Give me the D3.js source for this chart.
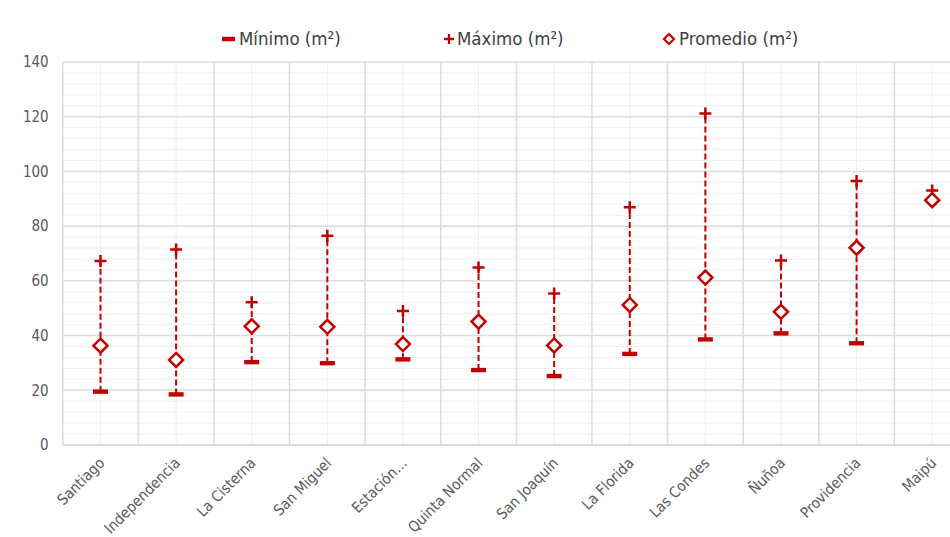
<!DOCTYPE html>
<html>
<head>
<meta charset="utf-8">
<script src="https://cdn.jsdelivr.net/npm/d3@7"></script>
<style>
  html, body { margin: 0; padding: 0; background: #fff; }
  svg { display: block; }
</style>
</head>
<body>
<svg id="chart" width="950" height="537"></svg>
<script>
// Superficie de departamentos por comuna (m²)
const comunas = ["Santiago", "Independencia", "La Cisterna", "San Miguel", "Estación…",
  "Quinta Normal", "San Joaquín", "La Florida", "Las Condes", "Ñuñoa", "Providencia", "Maipú"];
const minimo   = [19.5, 18.5, 30.3, 29.9, 31.3, 27.4, 25.2, 33.3, 38.6, 40.8, 37.2, null];
const maximo   = [67.3, 71.5, 52.2, 76.5, 49.0, 64.9, 55.4, 86.9, 121.2, 67.4, 96.5, 93.0];
const promedio = [36.3, 31.1, 43.4, 43.2, 36.9, 45.1, 36.4, 51.2, 61.2, 48.7, 72.1, 89.5];
const yTicks   = [0, 20, 40, 60, 80, 100, 120, 140];
const seriesNames = ["Mínimo (m²)", "Máximo (m²)", "Promedio (m²)"];

const RED = "#C00000";
const FONT = "'Liberation Sans Narrow', 'DejaVu Sans Condensed', Roboto, sans-serif";

const svg = d3.select("#chart");
const plot = { left: 62.7, right: 970, top: 62, bottom: 445 };

const x = d3.scaleBand().domain(comunas).range([plot.left, plot.right]).padding(0);
const y = d3.scaleLinear().domain([0, 140]).range([plot.bottom, plot.top]);

const data = comunas.map((c, i) => ({ c, min: minimo[i], max: maximo[i], avg: promedio[i] }));

// Gridlines: minor first, then major
const grid = svg.append("g");
d3.range(0, 141, 4).filter(v => v % 20 !== 0).forEach(v => {
  grid.append("line").attr("x1", plot.left).attr("x2", plot.right)
    .attr("y1", y(v)).attr("y2", y(v)).attr("stroke", "#EFEFEF").attr("stroke-width", 1);
});
comunas.forEach(c => {
  const cx = x(c) + x.bandwidth() / 2;
  grid.append("line").attr("x1", cx).attr("x2", cx).attr("y1", plot.top).attr("y2", plot.bottom)
    .attr("stroke", "#EFEFEF").attr("stroke-width", 1);
});
comunas.forEach(c => {
  grid.append("line").attr("x1", x(c)).attr("x2", x(c)).attr("y1", plot.top).attr("y2", plot.bottom)
    .attr("stroke", "#DCDCDC").attr("stroke-width", 1.5);
});
yTicks.forEach(v => {
  grid.append("line").attr("x1", plot.left).attr("x2", plot.right)
    .attr("y1", y(v)).attr("y2", y(v)).attr("stroke", v === 0 ? "#CFCFCF" : "#DCDCDC").attr("stroke-width", 1.5);
});

// Y axis labels
const yAxis = d3.axisLeft(y).tickValues(yTicks).tickSize(0).tickPadding(14);
const gy = svg.append("g").attr("transform", `translate(${plot.left},0)`).call(yAxis);
gy.select(".domain").remove();
gy.selectAll("text").attr("font-family", FONT).attr("font-size", 15).attr("fill", "#595959");

// X axis labels (rotated)
const xAxis = d3.axisBottom(x).tickSize(0).tickPadding(0);
const gx = svg.append("g").attr("transform", `translate(0,${plot.bottom})`).call(xAxis);
gx.select(".domain").remove();
gx.selectAll("text")
  .attr("font-family", FONT).attr("font-size", 15).attr("fill", "#595959")
  .attr("text-anchor", "end").attr("dy", null).attr("y", 0)
  .attr("transform", "translate(5,19) rotate(-45)");

// Range lines (dashed) from minimum to maximum
const marks = svg.append("g");
marks.selectAll("line.range").data(data.filter(d => d.min != null)).join("line")
  .attr("class", "range")
  .attr("x1", d => x(d.c) + x.bandwidth() / 2).attr("x2", d => x(d.c) + x.bandwidth() / 2)
  .attr("y1", d => y(d.min)).attr("y2", d => y(d.max))
  .attr("stroke", RED).attr("stroke-width", 2).attr("stroke-dasharray", "6,3");

// Minimum markers
marks.selectAll("rect.min").data(data.filter(d => d.min != null)).join("rect")
  .attr("class", "min")
  .attr("x", d => x(d.c) + x.bandwidth() / 2 - 7.5).attr("y", d => y(d.min) - 2.2)
  .attr("width", 15).attr("height", 4.4).attr("fill", RED);

// Maximum markers
marks.selectAll("path.max").data(data).join("path")
  .attr("class", "max")
  .attr("transform", d => `translate(${x(d.c) + x.bandwidth() / 2},${y(d.max)})`)
  .attr("d", "M-6,0H6M0,-6V6").attr("stroke", RED).attr("stroke-width", 2.5).attr("fill", "none");

// Average markers
marks.selectAll("path.avg").data(data).join("path")
  .attr("class", "avg")
  .attr("transform", d => `translate(${x(d.c) + x.bandwidth() / 2},${y(d.avg)})`)
  .attr("d", "M0,-7L7,0L0,7L-7,0Z").attr("stroke", RED).attr("stroke-width", 2.5).attr("fill", "#fff");

// Legend
const legend = svg.append("g").attr("font-family", FONT).attr("font-size", 18.5).attr("fill", "#404040");
const legendX = [222, 444, 663];
const ly = 39;
legend.append("rect").attr("x", legendX[0]).attr("y", ly - 2.2).attr("width", 13).attr("height", 4.4).attr("fill", RED);
legend.append("path").attr("transform", `translate(${legendX[1] + 5},${ly})`)
  .attr("d", "M-5,0H5M0,-5V5").attr("stroke", RED).attr("stroke-width", 2.3);
legend.append("path").attr("transform", `translate(${legendX[2] + 6},${ly})`)
  .attr("d", "M0,-5L5,0L0,5L-5,0Z").attr("stroke", RED).attr("stroke-width", 2.2).attr("fill", "#fff");
const textX = [legendX[0] + 17, legendX[1] + 13, legendX[2] + 16];
seriesNames.forEach((n, i) => {
  legend.append("text").attr("x", textX[i]).attr("y", ly).attr("dy", "0.35em").text(n);
});
</script>
</body>
</html>
